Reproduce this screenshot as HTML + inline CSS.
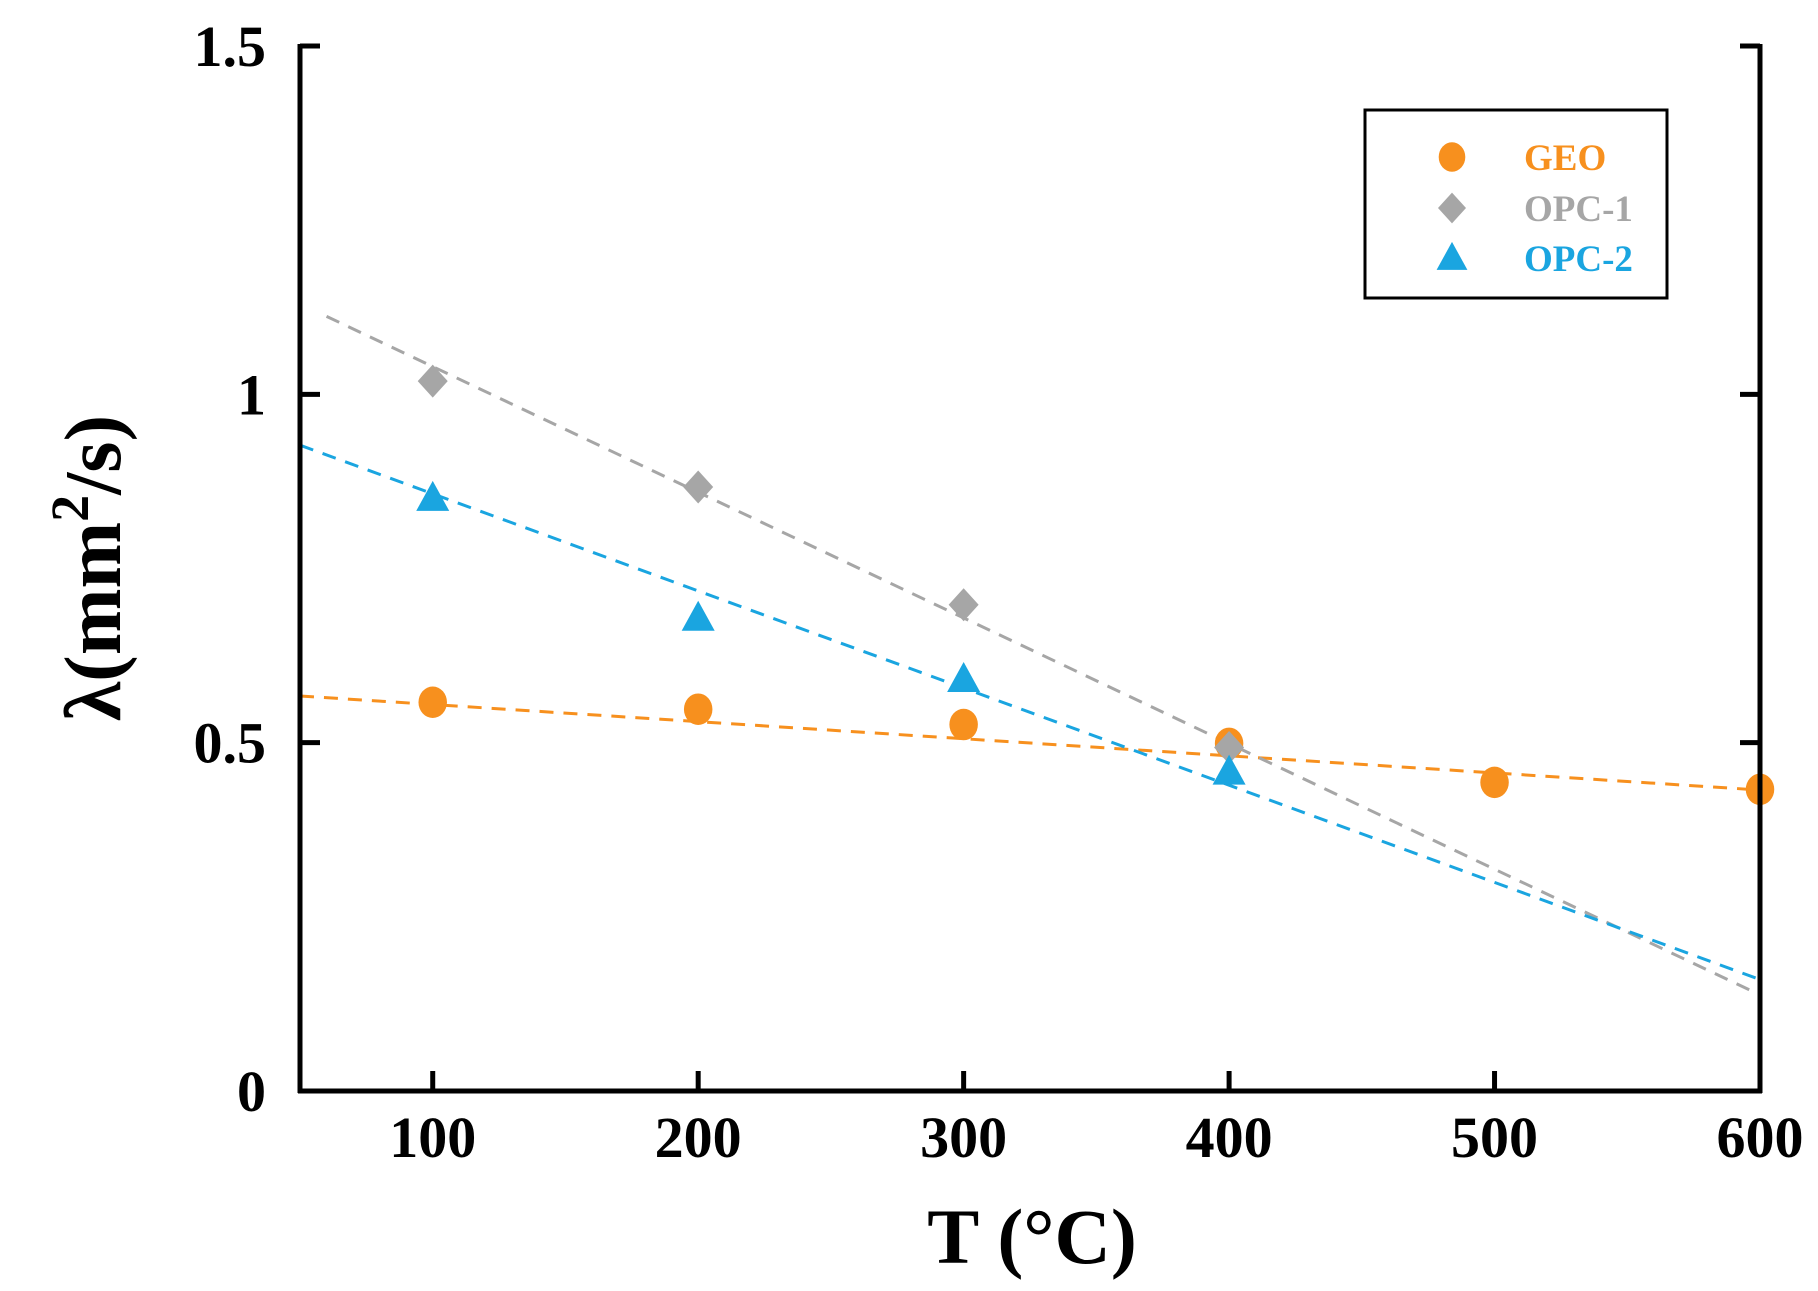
<!DOCTYPE html>
<html><head><meta charset="utf-8"><style>
html,body{margin:0;padding:0;background:#fff;}
svg{display:block;}
text{font-family:"Liberation Serif",serif;font-weight:bold;}
</style></head><body>
<svg id="chart" width="1818" height="1291" viewBox="0 0 1818 1291" xmlns="http://www.w3.org/2000/svg">
<g id="grid"></g>
</svg>
<script>
const temps = [100, 200, 300, 400, 500, 600];
const geoValues = [0.558, 0.548, 0.526, 0.499, 0.443, 0.433];
const opc1Temps = [100, 200, 300, 400];
const opc1Values = [1.019, 0.867, 0.698, 0.493];
const opc2Temps = [100, 200, 300, 400];
const opc2Values = [0.851, 0.679, 0.591, 0.458];
const trendTemps = [50, 600];
const geoTrend = [0.567, 0.432];
const opc1Trend = [1.13, 0.138];
const opc2Trend = [0.927, 0.16];
const xTicks = [100, 200, 300, 400, 500, 600];
const yTicks = [0, 0.5, 1, 1.5];
const yTickLabels = ["0", "0.5", "1", "1.5"];

const L = 300, R = 1760, T = 46, B = 1091;
const xMin = 50, xMax = 600, yMin = 0, yMax = 1.5;
function sx(v){ return L + (v - xMin) / (xMax - xMin) * (R - L); }
function sy(v){ return B - (v - yMin) / (yMax - yMin) * (B - T); }

const svg = document.getElementById('chart');
const NS = 'http://www.w3.org/2000/svg';
function mk(tag, attrs, parent){
  const e = document.createElementNS(NS, tag);
  for (const k in attrs) e.setAttribute(k, attrs[k]);
  (parent || svg).appendChild(e);
  return e;
}

const series = [
  {name:'geo', xs:temps, ys:geoValues, trend:geoTrend, color:'#f7901e', shape:'circle', x0:50},
  {name:'opc-1', xs:opc1Temps, ys:opc1Values, trend:opc1Trend, color:'#a6a6a6', shape:'diamond', x0:60},
  {name:'opc-2', xs:opc2Temps, ys:opc2Values, trend:opc2Trend, color:'#1aa5e0', shape:'triangle', x0:50}
];

// trend lines
series.forEach(s => {
  const x1 = trendTemps[0], x2 = trendTemps[1];
  const f = x => s.trend[0] + (s.trend[1]-s.trend[0])*(x-x1)/(x2-x1);
  const ln = mk('line', {x1:sx(s.x0), y1:sy(f(s.x0)), x2:sx(x2), y2:sy(f(x2)), stroke:s.color, 'stroke-width':3, 'stroke-dasharray':'14 10'});
  
  
});

function marker(shape, cx, cy, color, size){
  let e;
  if (shape === 'circle') e = mk('ellipse', {cx:cx, cy:cy, rx:size*0.95, ry:size*1.05, fill:color});
  else if (shape === 'diamond') e = mk('polygon', {points:`${cx},${cy-size*1.1} ${cx+size},${cy} ${cx},${cy+size*1.1} ${cx-size},${cy}`, fill:color});
  else e = mk('polygon', {points:`${cx},${cy-size*1.15} ${cx+size*1.1},${cy+size*0.85} ${cx-size*1.1},${cy+size*0.85}`, fill:color});
  return e;
}

// markers
series.forEach(s => {
  s.xs.forEach((x, i) => {
    const m = marker(s.shape, sx(x), sy(s.ys[i]), s.color, 15);
    
    
  });
});

// axes
const axL = mk('line', {x1:L, y1:T-2, x2:L, y2:B+2, stroke:'#000', 'stroke-width':5});


const axR = mk('line', {x1:R, y1:T-2, x2:R, y2:B+2, stroke:'#000', 'stroke-width':5});


const axB = mk('line', {x1:L-2, y1:B, x2:R+2, y2:B, stroke:'#000', 'stroke-width':5});



yTicks.forEach((v, i) => {
  const y = sy(v);
  const t1 = mk('line', {x1:L, y1:y, x2:L+20, y2:y, stroke:'#000', 'stroke-width':5});
  
  
  const t2 = mk('line', {x1:R-20, y1:y, x2:R, y2:y, stroke:'#000', 'stroke-width':5});
  
  
  const lb = mk('text', {x:266, y:y+20, 'text-anchor':'end', 'font-size':58, fill:'#000'});
  lb.textContent = yTickLabels[i];
  
  
});
xTicks.forEach(v => {
  const x = sx(v);
  const t = mk('line', {x1:x, y1:B-20, x2:x, y2:B, stroke:'#000', 'stroke-width':5});
  
  
  const lb = mk('text', {x:x, y:1157, 'text-anchor':'middle', 'font-size':58, fill:'#000'});
  lb.textContent = String(v);
  
  
});

// titles
const xt = mk('text', {x:1032, y:1263, 'text-anchor':'middle', 'font-size':78, fill:'#000'});
xt.textContent = 'T (°C)';


const yt = mk('text', {x:0, y:0, 'text-anchor':'middle', 'font-size':80, fill:'#000', transform:'translate(120,568) rotate(-90)'});
yt.innerHTML = 'λ(mm<tspan dy="-32" font-size="54">2</tspan><tspan dy="32">/s)</tspan>';



// legend
const lg = mk('g', {});


mk('rect', {x:1365, y:110, width:302, height:188, fill:'#fff', stroke:'#000', 'stroke-width':3}, lg);
const legendY = [157, 208, 258];
const legendLabels = ['GEO', 'OPC-1', 'OPC-2'];
series.forEach((s, i) => {
  const m = marker(s.shape, 1452, legendY[i], s.color, 14);
  lg.appendChild(m);
  
  
  const tx = mk('text', {x:1524, y:legendY[i]+13, 'font-size':37, fill:s.color}, lg);
  tx.textContent = legendLabels[i];
  
  
});
</script>
</body></html>
